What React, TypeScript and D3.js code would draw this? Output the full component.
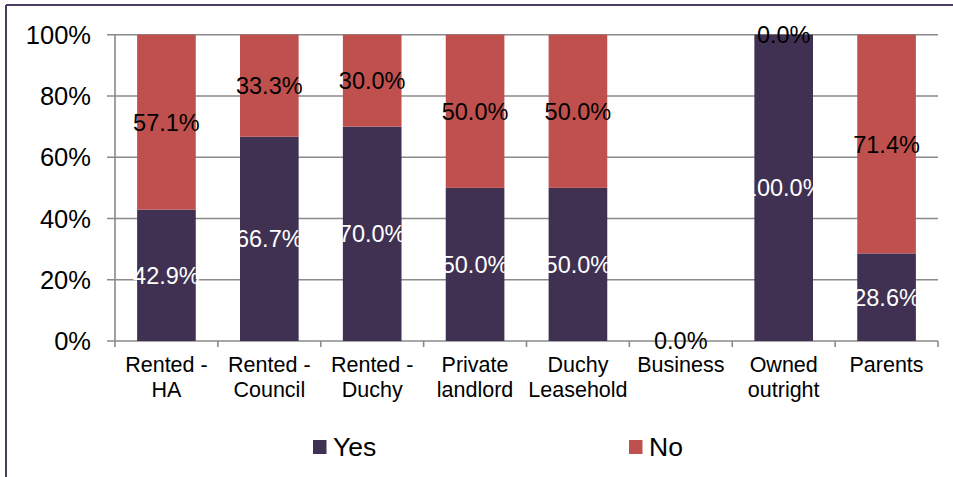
import React from "react";
import * as d3 from "d3";

const categories: string[][] = [
  ["Rented -", "HA"],
  ["Rented -", "Council"],
  ["Rented -", "Duchy"],
  ["Private", "landlord"],
  ["Duchy", "Leasehold"],
  ["Business"],
  ["Owned", "outright"],
  ["Parents"],
];
const yesValues = [42.9, 66.7, 70.0, 50.0, 50.0, 0.0, 100.0, 28.6];
const noValues = [57.1, 33.3, 30.0, 50.0, 50.0, 0.0, 0.0, 71.4];
const yTicks = [0, 20, 40, 60, 80, 100];
const seriesNames = ["Yes", "No"];

const W = 953;
const H = 477;
const left = 115;
const right = 938;
const top = 34.7;
const bottom = 341;
const YES = "#403152";
const NO = "#C0504D";
const GRID = "#8a8a8a";
const FONT = "Liberation Sans, Arial, sans-serif";

export default function App() {
  const x = d3
    .scaleBand<number>()
    .domain(d3.range(categories.length))
    .range([left, right])
    .paddingInner(0.43)
    .paddingOuter(0.215);
  const step = (right - left) / categories.length;
  const y = d3.scaleLinear().domain([0, 100]).range([bottom, top]);

  return (
    <svg
      width={W}
      height={H}
      style={{ position: "absolute", left: 0, top: 0, background: "#fff" }}
      fontFamily={FONT}
    >
      {/* frame */}
      <line x1={6} x2={6} y1={5} y2={H} stroke="#4b3d62" strokeWidth={2} />
      <line x1={6} x2={W} y1={5} y2={5} stroke="#4b3d62" strokeWidth={2} />

      {/* gridlines and y ticks */}
      {yTicks.map((t) => (
        <g key={t}>
          <line x1={left - 8} x2={right} y1={y(t)} y2={y(t)} stroke={GRID} strokeWidth={1.6} />
          <text
            x={91}
            y={y(t)}
            dy="0.36em"
            textAnchor="end"
            fontSize={25.5}
            fill="#000"
          >
            {t}%
          </text>
        </g>
      ))}
      <line x1={left} x2={left} y1={top} y2={bottom} stroke={GRID} strokeWidth={1.6} />
      {d3.range(categories.length + 1).map((i) => (
        <line
          key={i}
          x1={left + i * step}
          x2={left + i * step}
          y1={bottom}
          y2={bottom + 6}
          stroke={GRID}
          strokeWidth={1.6}
        />
      ))}

      {/* bars */}
      {categories.map((_, i) => {
        const xv = x(i)!;
        const bw = x.bandwidth();
        return (
          <g key={i}>
            <rect x={xv} width={bw} y={y(yesValues[i])} height={y(0) - y(yesValues[i])} fill={YES} />
            <rect
              x={xv}
              width={bw}
              y={y(yesValues[i] + noValues[i])}
              height={y(yesValues[i]) - y(yesValues[i] + noValues[i])}
              fill={NO}
            />
          </g>
        );
      })}

      {/* labels */}
      {categories.map((_, i) => {
        const cx = x(i)! + x.bandwidth() / 2;
        const ys = y(yesValues[i] / 2);
        const yn = y(yesValues[i] + noValues[i] / 2);
        return (
          <g key={i} fontSize={23.5}>
            <text x={cx} y={ys} dy="0.36em" textAnchor="middle" fill="#fff">
              {yesValues[i].toFixed(1)}%
            </text>
            <text x={cx} y={yn} dy="0.36em" textAnchor="middle" fill="#000">
              {noValues[i].toFixed(1)}%
            </text>
          </g>
        );
      })}

      {/* category labels */}
      {categories.map((lines, i) => (
        <text key={i} x={left + (i + 0.5) * step} y={372} textAnchor="middle" fontSize={21.5} fill="#000">
          {lines.map((l, j) => (
            <tspan key={j} x={left + (i + 0.5) * step} dy={j === 0 ? 0 : 25}>
              {l}
            </tspan>
          ))}
        </text>
      ))}

      {/* legend */}
      {seriesNames.map((n, k) => {
        const lx = k === 0 ? 313 : 629;
        return (
          <g key={n}>
            <rect x={lx} y={440} width={13.5} height={14} fill={k === 0 ? YES : NO} />
            <text x={lx + 20} y={456} fontSize={26.5} fill="#000">
              {n}
            </text>
          </g>
        );
      })}
    </svg>
  );
}
